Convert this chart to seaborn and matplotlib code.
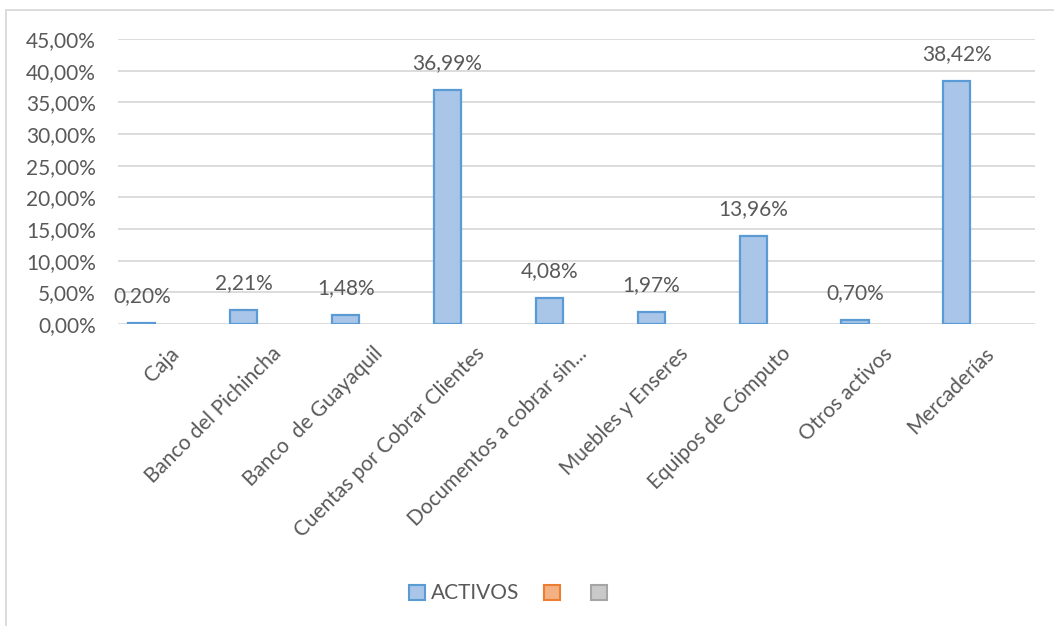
import matplotlib
matplotlib.use("Agg")
import matplotlib.pyplot as plt
import matplotlib.patches as mpatches
import seaborn as sns
import pandas as pd
import numpy as np

categories = ["Caja", "Banco del Pichincha", "Banco  de Guayaquil",
              "Cuentas por Cobrar Clientes", "Documentos a cobrar sin...",
              "Muebles y Enseres", "Equipos de Cómputo", "Otros activos",
              "Mercaderías"]
activos = [0.20, 2.21, 1.48, 36.99, 4.08, 1.97, 13.96, 0.70, 38.42]
series_names = ["ACTIVOS", " ", "  "]
y_ticks = [0, 5, 10, 15, 20, 25, 30, 35, 40, 45]

sns.set_theme(style="white")
plt.rcParams['font.family'] = ['Lato', 'DejaVu Sans']

text_col = "#595959"
grid_col = "#D9D9D9"
fs = 15

rows = []
for c, v in zip(categories, activos):
    rows.append({"cat": c, "serie": series_names[0], "val": v})
    rows.append({"cat": c, "serie": series_names[1], "val": np.nan})
    rows.append({"cat": c, "serie": series_names[2], "val": np.nan})
df = pd.DataFrame(rows)

fig = plt.figure(figsize=(10.54, 6.26), dpi=100)
ax = fig.add_axes([0.112, 0.4824, 0.870, 0.4553])

sns.barplot(data=df, x="cat", y="val", hue="serie", order=categories,
            hue_order=series_names,
            palette=["#A9C5E8", "#F4B183", "#C9C9C9"], width=0.8,
            errorbar=None, ax=ax, legend=False, saturation=1,
            edgecolor="#5B9BD5", linewidth=1.6)

ax.set_ylim(0, 45)
ax.set_xlim(-0.5, len(categories) - 0.5)
ax.set_yticks(y_ticks)
ax.set_yticklabels([f"{t:.2f}%".replace(".", ",") for t in y_ticks],
                   color=text_col, fontsize=fs)
ax.yaxis.grid(True, color=grid_col, linewidth=1.3)
ax.set_axisbelow(True)
for s in ax.spines.values():
    s.set_visible(False)
ax.tick_params(axis="y", length=0, pad=16)
ax.set_xlabel("")
ax.set_ylabel("")
ax.set_xticks(range(len(categories)))
ax.set_xticklabels(categories, rotation=45, ha="right", rotation_mode="anchor",
                   color=text_col, fontsize=fs)
ax.tick_params(axis="x", length=0, pad=14)

# data labels above bars of the first series
cont = ax.containers[0]
labels = [f"{v:.2f}%".replace(".", ",") for v in activos]
ax.bar_label(cont, labels=labels, padding=12, color=text_col, fontsize=fs)

handles = [
    mpatches.Patch(facecolor="#A9C5E8", edgecolor="#5B9BD5", linewidth=1.5, label="ACTIVOS"),
    mpatches.Patch(facecolor="#F4B183", edgecolor="#ED7D31", linewidth=1.5, label=""),
    mpatches.Patch(facecolor="#C9C9C9", edgecolor="#A5A5A5", linewidth=1.5, label=""),
]
leg = fig.legend(handles=handles, loc="center", bbox_to_anchor=(0.485, 0.052),
                 ncol=3, frameon=False, fontsize=fs, handlelength=0.75,
                 handleheight=0.75, handletextpad=0.3, columnspacing=1.2)
for t in leg.get_texts():
    t.set_color(text_col)

# outer chart border
border = mpatches.Rectangle((6 / 1054, -0.05), 1.1, 1 - 10 / 626 + 0.05,
                            transform=fig.transFigure, fill=False,
                            edgecolor="#D9D9D9", linewidth=1.3, clip_on=False)
fig.patches.append(border)

fig.savefig("out.png", dpi=100)
